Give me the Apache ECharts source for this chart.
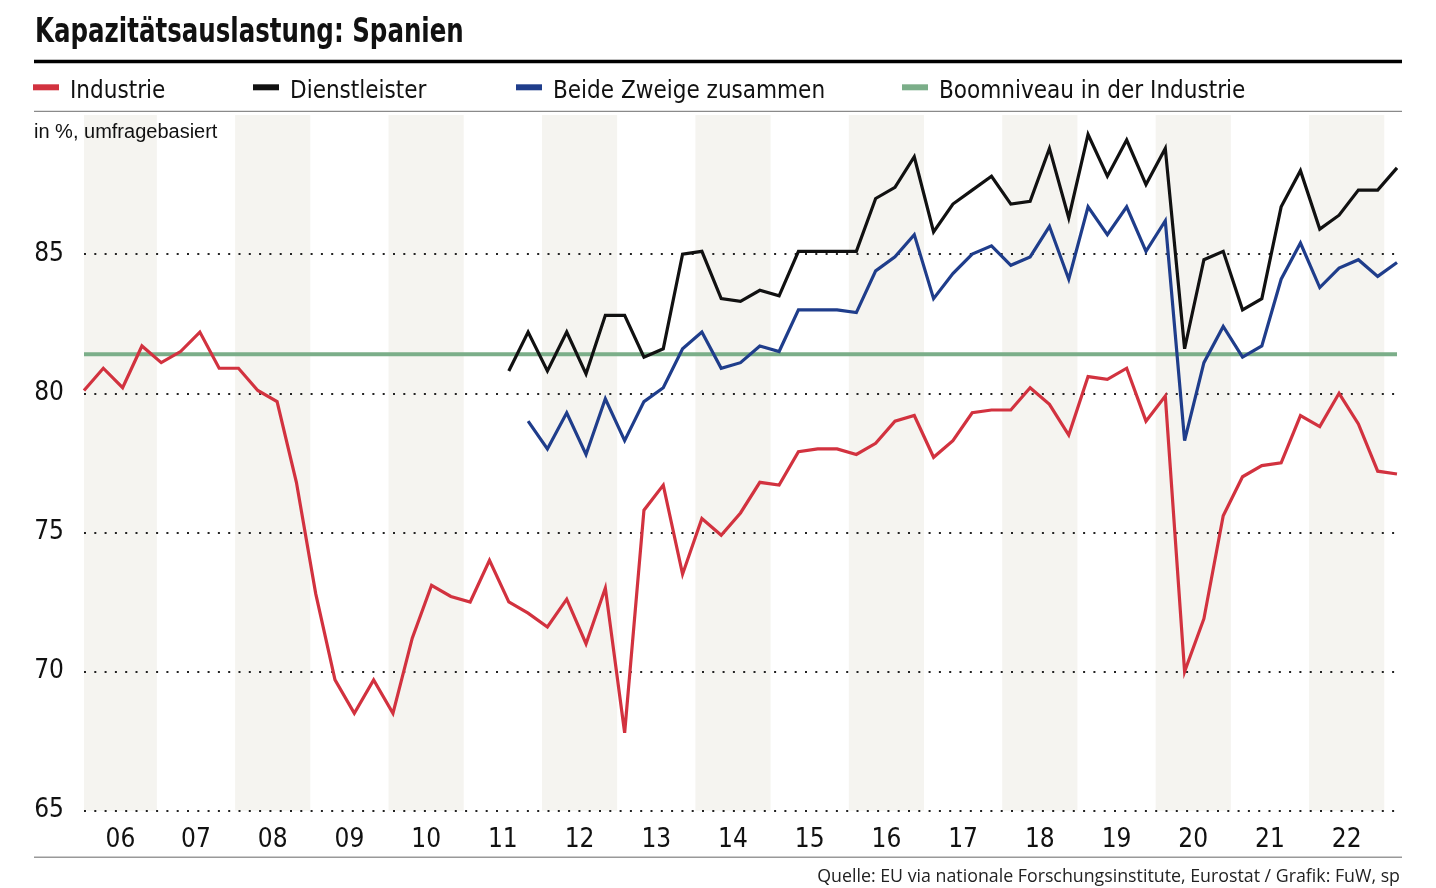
<!DOCTYPE html>
<html><head><meta charset="utf-8">
<script src="https://cdn.jsdelivr.net/npm/echarts@6/dist/echarts.min.js"></script>
<style>html,body{margin:0;padding:0;background:#fff}#c{width:1436px;height:888px}</style>
</head><body><div id="c"></div>
<script>
const TITLE = 'Kapazitätsauslastung: Spanien';
const SUBTITLE = 'in %, umfragebasiert';
const SOURCE = 'Quelle: EU via nationale Forschungsinstitute, Eurostat / Grafik: FuW, sp';
const NAMES = ['Industrie', 'Dienstleister', 'Beide Zweige zusammen', 'Boomniveau in der Industrie'];
const YEAR_LABELS = ['06','07','08','09','10','11','12','13','14','15','16','17','18','19','20','21','22'];
const FIRST_YEAR = 2006;      // first quarter: 2006 Q1
const LAST_QUARTER_POS = 2023; // last quarter: 2023 Q1

// Quarterly values, index 0 = 2006 Q1
const industrie = [80.1, 80.9, 80.2, 81.7, 81.1, 81.5, 82.2, 80.9, 80.9, 80.1, 79.7, 76.8,
  72.8, 69.7, 68.5, 69.7, 68.5, 71.2, 73.1, 72.7, 72.5, 74.0,
  72.5, 72.1, 71.6, 72.6, 71.0, 73.0, 67.8, 75.8, 76.7, 73.5,
  75.5, 74.9, 75.7, 76.8, 76.7, 77.9, 78.0, 78.0, 77.8, 78.2,
  79.0, 79.2, 77.7, 78.3, 79.3, 79.4, 79.4, 80.2, 79.6, 78.5,
  80.6, 80.5, 80.9, 79.0, 79.9, 70.0, 71.9, 75.6, 77.0, 77.4,
  77.5, 79.2, 78.8, 80.0, 78.9, 77.2, 77.1];
const DIENST_START = 22; // 2011 Q3
const dienstleister = [80.8, 82.2, 80.8, 82.2, 80.7, 82.8, 82.8, 81.3, 81.6, 85.0,
  85.1, 83.4, 83.3, 83.7, 83.5, 85.1, 85.1, 85.1, 85.1, 87.0,
  87.4, 88.5, 85.8, 86.8, 87.3, 87.8, 86.8, 86.9, 88.8, 86.3,
  89.3, 87.8, 89.1, 87.5, 88.8, 81.6, 84.8, 85.1, 83.0, 83.4,
  86.7, 88.0, 85.9, 86.4, 87.3, 87.3, 88.1];
const BEIDE_START = 23; // 2011 Q4
const beide = [79.0, 78.0, 79.3, 77.8, 79.8, 78.3, 79.7, 80.2, 81.6, 82.2,
  80.9, 81.1, 81.7, 81.5, 83.0, 83.0, 83.0, 82.9, 84.4, 84.9,
  85.7, 83.4, 84.3, 85.0, 85.3, 84.6, 84.9, 86.0, 84.1, 86.7,
  85.7, 86.7, 85.1, 86.2, 78.3, 81.1, 82.4, 81.3, 81.7, 84.1,
  85.4, 83.8, 84.5, 84.8, 84.2, 84.7];
const BOOM = 81.4;

const COND = '"DejaVu Sans Condensed", "Liberation Sans Narrow", sans-serif';
const COLORS = { ind: '#d2323f', dien: '#111111', beide: '#1f3d8b', boom: '#7bae89', band: '#f5f4f0' };

const qPos = i => FIRST_YEAR + i / 4;
const pairs = (arr, start) => arr.map((v, k) => [qPos(start + k), v]);

const bandData = YEAR_LABELS.map((lab, k) => [
  { xAxis: FIRST_YEAR + k, name: lab, itemStyle: { color: k % 2 === 0 ? COLORS.band : 'rgba(0,0,0,0)' } },
  { xAxis: FIRST_YEAR + k + 0.98 }
]);

function lineSeries(name, data, color, width, z) {
  return {
    name, type: 'line', data, z, symbol: 'none', silent: true, connectNulls: false,
    itemStyle: { color }, lineStyle: { color, width, join: 'miter', miterLimit: 6 }
  };
}

const chart = echarts.init(document.getElementById('c'), null, { renderer: 'canvas' });
chart.setOption({
  animation: false,
  backgroundColor: '#ffffff',
  title: [
    { text: SUBTITLE, left: 34, top: 120, padding: 0,
      textStyle: { fontFamily: '"Liberation Sans", sans-serif', fontWeight: 'normal', fontSize: 20, lineHeight: 24, color: '#111' } },
    { text: SOURCE, right: 36, top: 866.5, padding: 0,
      textStyle: { fontFamily: '"Open Sans", sans-serif', fontWeight: 'normal', fontSize: 17.8, lineHeight: 20, color: '#222' } }
  ],
  legend: [
    { left: 33, name: NAMES[0] }, { left: 253, name: NAMES[1] },
    { left: 516, name: NAMES[2] }, { left: 902, name: NAMES[3] }
  ].map(l => ({
    data: [l.name], left: l.left, top: 71.3, padding: 0, selectedMode: false,
    icon: 'rect', itemWidth: 26, itemHeight: 6, itemStyle: { borderWidth: 0 },
    formatter: n => '{t|' + n + '}',
    textStyle: { fontFamily: COND, fontSize: 24, color: '#111',
      rich: { t: { fontFamily: COND, fontSize: 24, lineHeight: 24, color: '#111', padding: [8, 0, 0, 6] } } }
  })),
  grid: { left: 84, right: 39, top: 115, bottom: 77.3, containLabel: false },
  xAxis: [
    { type: 'value', min: FIRST_YEAR, max: LAST_QUARTER_POS, show: false },
    { type: 'value', min: 2006.030, max: 2023.146, show: false, position: 'top' }
  ],
  yAxis: {
    type: 'value', min: 65, max: 90, interval: 5, z: 1,
    axisLine: { show: false }, axisTick: { show: false },
    axisLabel: { fontFamily: COND, fontSize: 26, color: '#111', margin: 20, showMaxLabel: false,
      formatter: v => (v === 90 ? '' : String(v)) },
    splitLine: { show: true, showMaxLine: false, lineStyle: { color: '#222', width: 2, type: [2, 8.3] } }
  },
  series: [
    {
      type: 'line', xAxisIndex: 1, data: [], silent: true, z: 0,
      markArea: {
        silent: true, z: 0,
        label: { show: true, position: 'bottom', distance: 17, formatter: '{b}',
          fontFamily: COND, fontSize: 26, lineHeight: 26, color: '#111' },
        data: bandData
      }
    },
    lineSeries(NAMES[3], [[FIRST_YEAR, BOOM], [LAST_QUARTER_POS, BOOM]], COLORS.boom, 4, 2),
    lineSeries(NAMES[0], pairs(industrie, 0), COLORS.ind, 3.2, 3),
    lineSeries(NAMES[1], pairs(dienstleister, DIENST_START), COLORS.dien, 3.2, 3),
    lineSeries(NAMES[2], pairs(beide, BEIDE_START), COLORS.beide, 3.2, 3)
  ],
  graphic: [
    { type: 'text', silent: true, x: 35, y: 33, scaleX: 0.825, scaleY: 1,
      style: { text: TITLE, font: 'bold 33px "DejaVu Sans Condensed", sans-serif', fill: '#111',
        textAlign: 'left', textVerticalAlign: 'middle', align: 'left', verticalAlign: 'middle' } },
    { type: 'line', silent: true, shape: { x1: 34, y1: 61.5, x2: 1402, y2: 61.5 }, style: { stroke: '#000', lineWidth: 3.5 } },
    { type: 'line', silent: true, shape: { x1: 34, y1: 111.3, x2: 1402, y2: 111.3 }, style: { stroke: '#8a8a8a', lineWidth: 1.3 } },
    { type: 'line', silent: true, shape: { x1: 34, y1: 857.3, x2: 1402, y2: 857.3 }, style: { stroke: '#999', lineWidth: 1.5 } }
  ]
});
</script></body></html>
